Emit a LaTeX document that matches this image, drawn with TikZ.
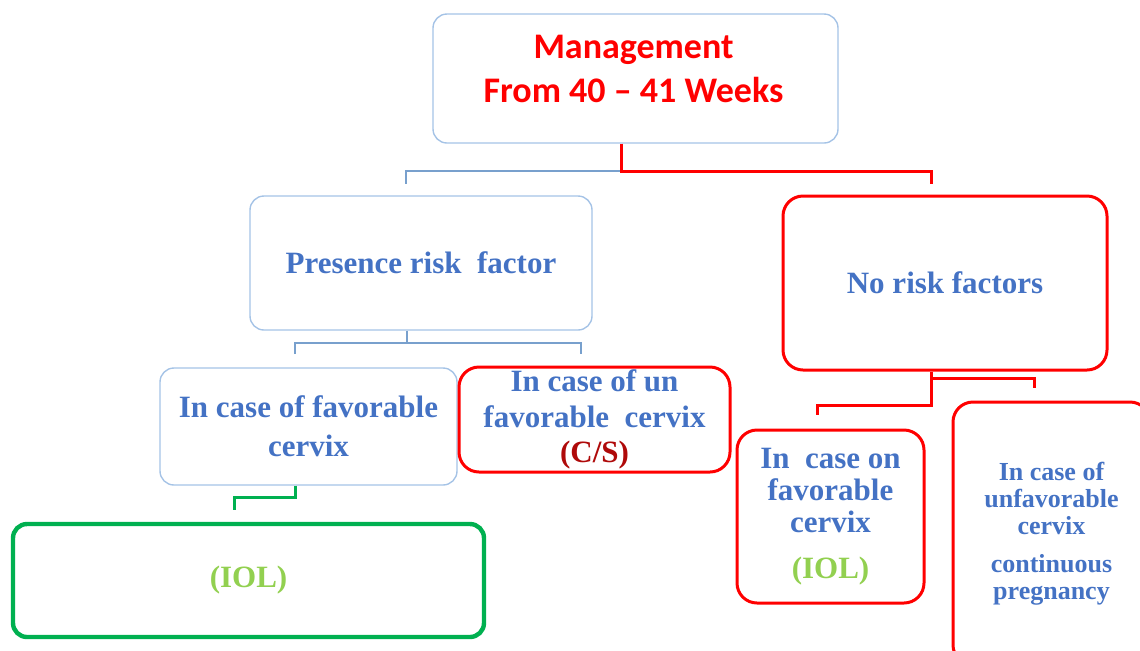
\documentclass[tikz,border=0pt]{standalone}
\usepackage{fontspec}
\setmainfont{Liberation Serif}
\newfontfamily\titlefont{Carlito}
\usetikzlibrary{positioning,calc}
\definecolor{boxblue}{RGB}{165,195,230}
\definecolor{lineblue}{RGB}{120,160,205}
\definecolor{txtblue}{RGB}{68,114,196}
\definecolor{mgred}{RGB}{255,0,0}
\definecolor{csred}{RGB}{175,10,10}
\definecolor{boxgreen}{RGB}{0,176,80}
\definecolor{txtgreen}{RGB}{146,208,80}
\begin{document}
\begin{tikzpicture}[x=0.5pt, y=-0.5pt,
  box/.style={draw, align=center, inner sep=0pt, text=txtblue, font=\bfseries\fontsize{15.5}{19.5}\selectfont},
  bluebox/.style={box, draw=boxblue, line width=0.7pt, rounded corners=7pt},
  redbox/.style={box, draw=mgred, line width=1.5pt, rounded corners=10pt},
  greenbox/.style={box, draw=boxgreen, line width=2.2pt, rounded corners=7pt},
  bline/.style={draw=lineblue, line width=0.7pt},
  rline/.style={draw=mgred, line width=1.5pt},
  gline/.style={draw=boxgreen, line width=1.5pt}]
\clip (0,0) rectangle (1140,650);
\useasboundingbox (0,0) rectangle (1140,650);
% boxes
\node[bluebox, minimum width=202.5pt, minimum height=64.5pt] (top) at (635.5,78.5) {};
\node[text=mgred, align=center, font=\titlefont\bfseries\fontsize{18}{22}\selectfont] (title) at ($(top.center)+(-2,-9.5)$) {Management\\From 40 – 41 Weeks};
\node[bluebox, minimum width=171pt, minimum height=67pt] (pres) at (421,263) {Presence risk\ \ factor};
\node[redbox, minimum width=162pt, minimum height=87pt] (norisk) at (945,283) {No risk factors};
\node[bluebox, minimum width=148.5pt, minimum height=58.5pt] (fav) at (308.5,426.5) {In case of favorable\\cervix};
\node[redbox, minimum width=135.5pt, minimum height=52.5pt, font=\bfseries\fontsize{15.5}{17.75}\selectfont] (cs) at (594.5,419.5) {In case of un\\favorable\ \ cervix\\\textcolor{csred}{(C/S)}};
\node[greenbox, minimum width=235.5pt, minimum height=56.5pt, text=txtgreen] (iol) at (248.5,580.5) {(IOL)};
\node[redbox, minimum width=93.5pt, minimum height=86.5pt, font=\bfseries\fontsize{15.5}{16}\selectfont] (fav2) at (830.5,516.5) {In\ \ case on\\favorable\\cervix\\[7pt]\textcolor{txtgreen}{(IOL)}};
\node[redbox, minimum width=98.5pt, minimum height=131.5pt, font=\bfseries\fontsize{13}{13.5}\selectfont] (unfav) at (1051.5,533.5) {In case of\\unfavorable\\cervix\\[5.5pt]continuous\\pregnancy};
% connectors
\coordinate (j1) at (621,171);
\coordinate (pt) at (406,184);
\coordinate (nt) at (931,184);
\draw[bline] (j1) -| (pt);
\draw[rline] (top.south -| j1) -- (j1) -| (nt);
\coordinate (j2) at (407,343);
\coordinate (fl) at (295,354);
\coordinate (fr) at (581,354);
\draw[bline] (pres.south -| j2) -- (j2);
\draw[bline] (fl) |- (j2) -| (fr);
\coordinate (g1) at (295,497);
\coordinate (gi) at (234,510);
\draw[gline] (fav.south -| g1) -- (g1) -| (gi);
\coordinate (j3) at (931,378);
\coordinate (j4) at (931,405);
\coordinate (ur) at (1034,388);
\coordinate (fl2) at (817,415);
\draw[rline] (norisk.south -| j3) -- (j3) -| (ur);
\draw[rline] (j3) -- (j4) -| (fl2);
\end{tikzpicture}
\end{document}
